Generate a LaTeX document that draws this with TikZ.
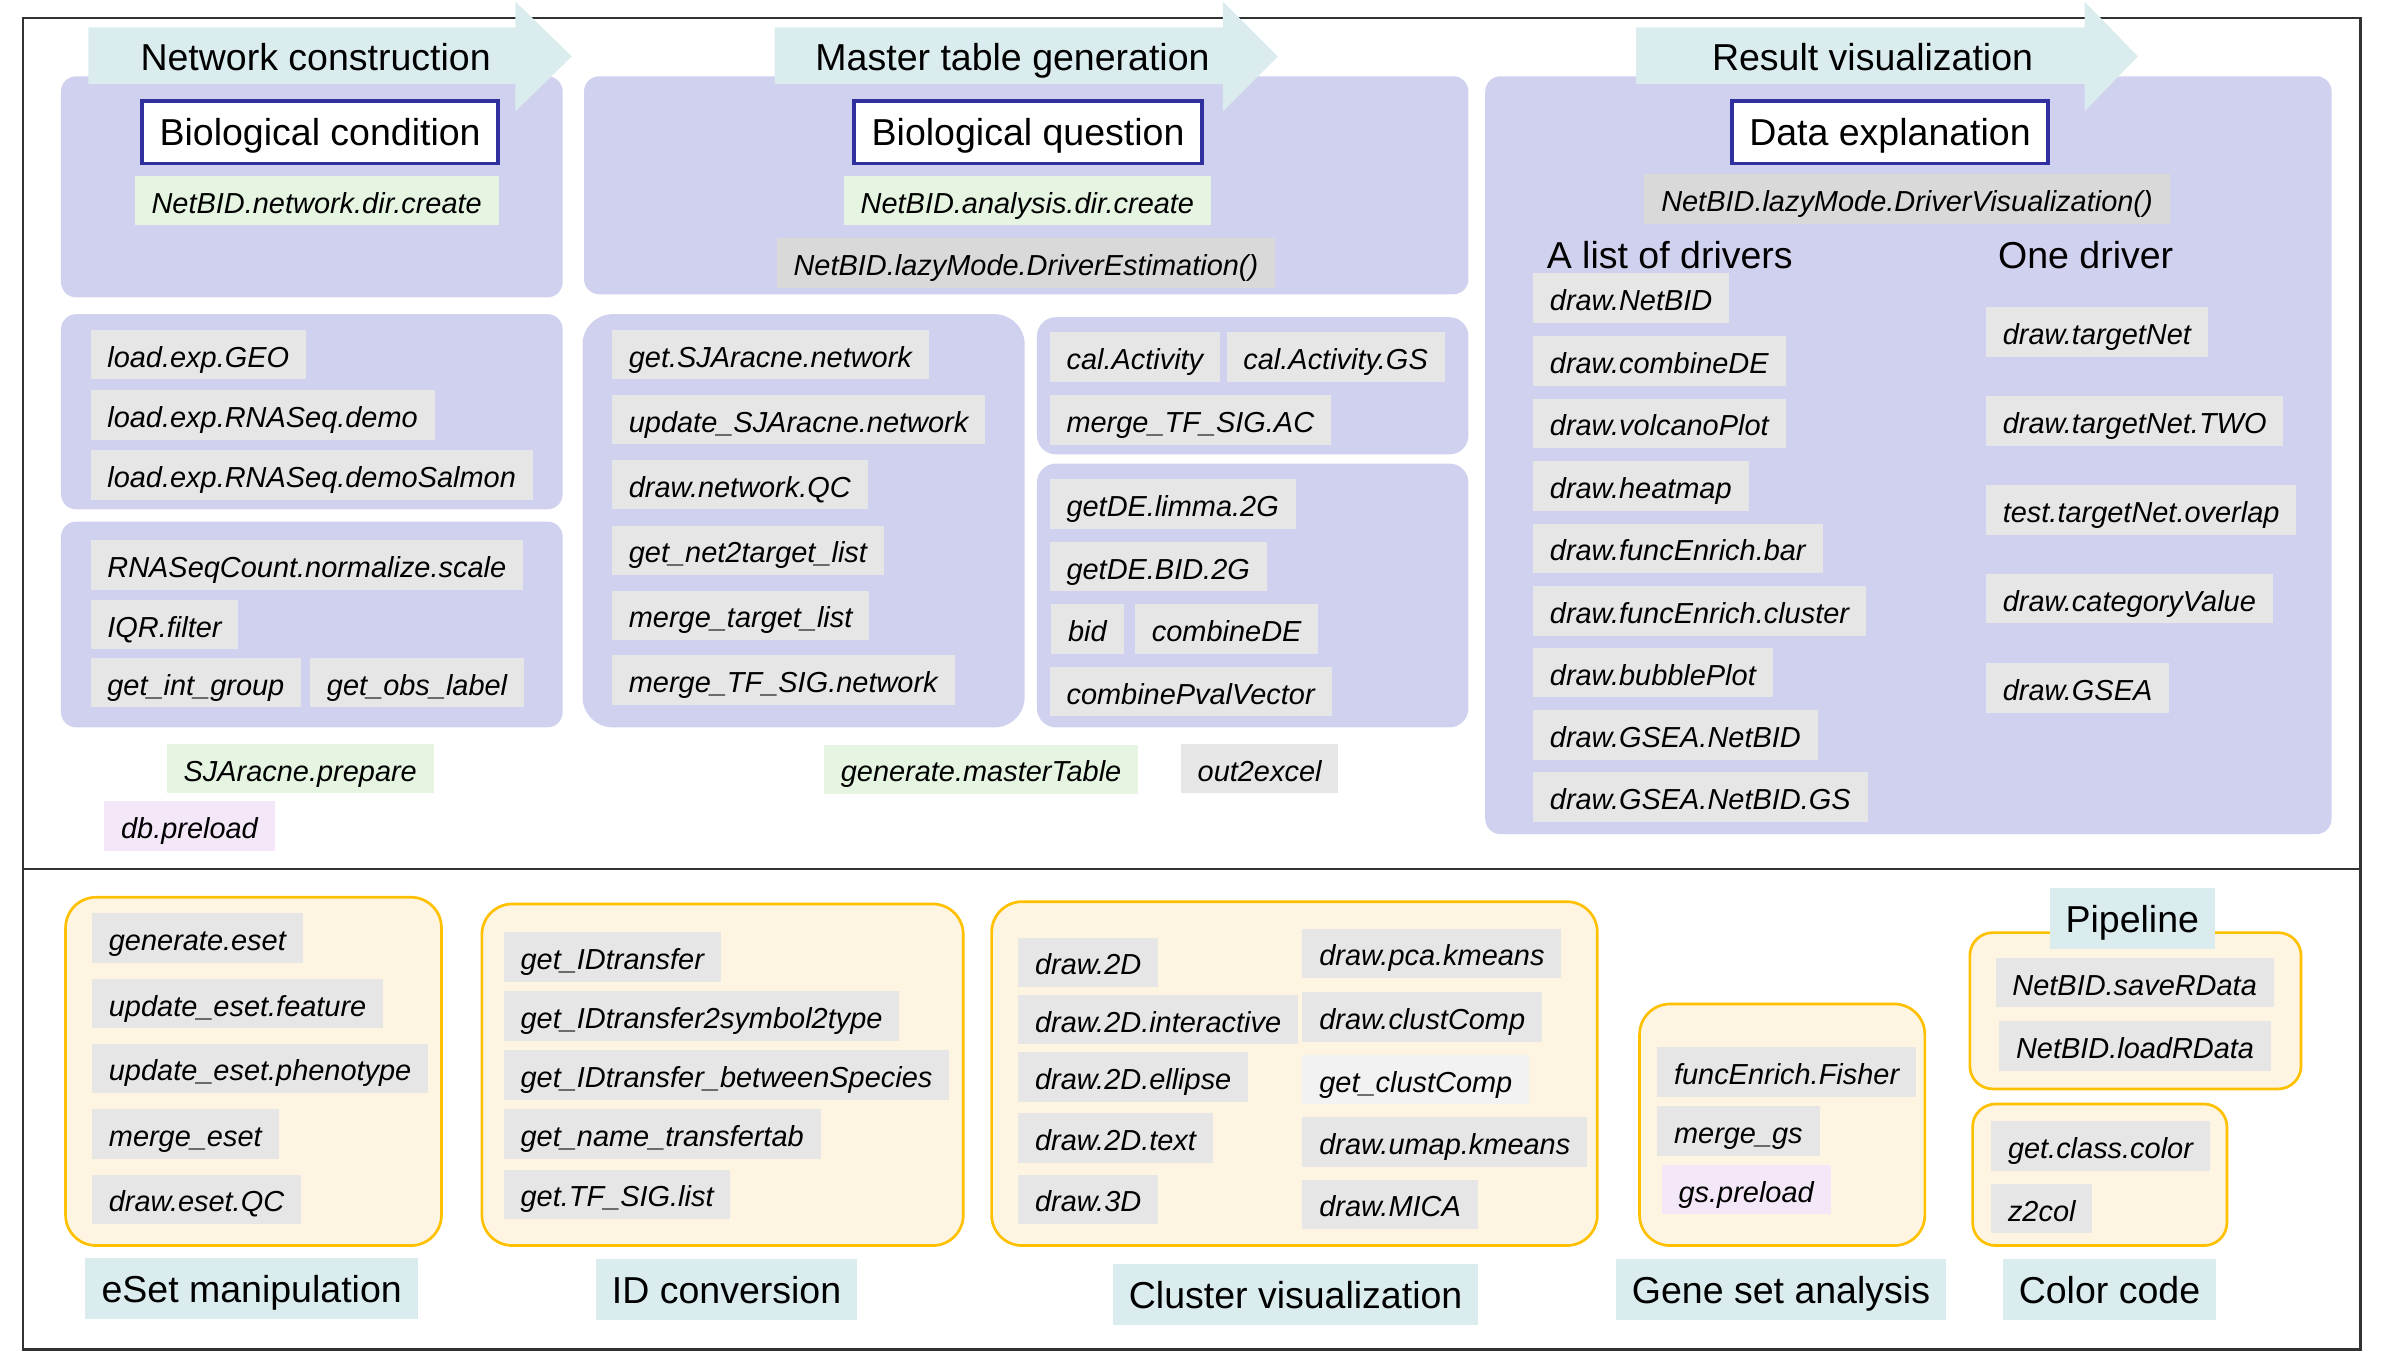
\documentclass[tikz,border=0pt]{standalone}
\usepackage{fontspec}
\setmainfont{Liberation Sans}
\usepackage{tikz}
\definecolor{nbPurple}{RGB}{208,209,238}
\definecolor{nbArrow}{RGB}{218,236,238}
\definecolor{nbGray}{RGB}{230,230,230}
\definecolor{nbDark}{RGB}{217,217,217}
\definecolor{nbLight}{RGB}{242,242,242}
\definecolor{nbGreen}{RGB}{229,245,226}
\definecolor{nbPink}{RGB}{243,231,248}
\definecolor{nbCream}{RGB}{254,244,226}
\definecolor{nbGold}{RGB}{255,192,0}
\definecolor{nbBlue}{RGB}{48,48,160}
\definecolor{nbFrame}{RGB}{50,50,50}

\begin{document}
\begin{tikzpicture}[x=0.02cm, y=-0.02cm,
  fn/.style={fill=nbGray, anchor=north west, font=\fontsize{10.8}{13}\selectfont\itshape,
    inner xsep=6.3pt, inner ysep=3.6pt, text height=10.3pt, text depth=1pt},
  fnGreen/.style={fn, fill=nbGreen},
  fnPink/.style={fn, fill=nbPink},
  fnDark/.style={fn, fill=nbDark},
  fnLight/.style={fn, fill=nbLight},
  tag/.style={fill=nbArrow, anchor=north west, font=\fontsize{14}{16}\selectfont,
    inner xsep=6pt, inner ysep=4pt, text height=12.6pt, text depth=2.2pt},
  question/.style={draw=nbBlue, line width=1.4pt, fill=white, anchor=north west,
    font=\fontsize{14}{16}\selectfont, inner xsep=6.5pt, inner ysep=4.5pt,
    text height=12pt, text depth=2.3pt},
  heading/.style={font=\fontsize{14}{16}\selectfont, inner sep=0pt},
  panel/.style={fill=nbPurple, rounded corners=0.2cm},
  toolbox/.style={fill=nbCream, draw=nbGold, line width=1pt, rounded corners=0.4cm},
  stage/.style={fill=nbArrow}]
  \useasboundingbox (0,0) rectangle (1568,893);

  % Frame
  \draw[nbFrame, line width=0.8pt] (15,12) rectangle (1548,885);
  \draw[nbFrame, line width=0.8pt] (15,570) -- (1548,570);

  % Panels of the workflow
  \fill[panel] (40,50) rectangle (369,195);
  \fill[panel] (383,50) rectangle (963,193);
  \fill[panel] (974,50) rectangle (1529,547);
  \fill[panel] (40,206) rectangle (369,334);
  \fill[panel] (40,342) rectangle (369,477);
  \fill[panel, rounded corners=0.4cm] (382,206) rectangle (672,477);
  \fill[panel, rounded corners=0.25cm] (680,208) rectangle (963,298);
  \fill[panel, rounded corners=0.25cm] (680,304) rectangle (963,477);

  % Stage arrows
  \fill[stage] (58,18) -- (338,18) -- (338,1) -- (375,37) -- (338,73) -- (338,55) -- (58,55) -- cycle;
  \fill[stage] (508,18) -- (802,18) -- (802,1) -- (838,37) -- (802,73) -- (802,55) -- (508,55) -- cycle;
  \fill[stage] (1073,18) -- (1367,18) -- (1367,1) -- (1402,37) -- (1367,73) -- (1367,55) -- (1073,55) -- cycle;
  \node[heading, anchor=base] (netTitle) at (207,46) {Network construction};
  \node[heading, anchor=base] (masterTitle) at (664,46) {Master table generation};
  \node[heading, anchor=base] (resultTitle) at (1228,46) {Result visualization};

  % Network construction
  \node[question] (bioCond) at (92,65) {Biological condition};
  \node[fnGreen] (netDir) at (88,115) {NetBID.network.dir.create};
  \node[fn] (loadGeo) at (59,216) {load.exp.GEO};
  \node[fn] (loadDemo) at (59,255.5) {load.exp.RNASeq.demo};
  \node[fn] (loadSalmon) at (59,295) {load.exp.RNASeq.demoSalmon};
  \node[fn] (normScale) at (59,354) {RNASeqCount.normalize.scale};
  \node[fn] (iqrFilter) at (59,393) {IQR.filter};
  \node[fn] (intGroup) at (59,431) {get\_int\_group};
  \node[fn] (obsLabel) at (203,431) {get\_obs\_label};
  \node[fnGreen] (sjaPrepare) at (109,487.5) {SJAracne.prepare};
  \node[fnPink] (dbPreload) at (68,525) {db.preload};

  % Master table generation
  \node[question] (bioQuest) at (559,65) {Biological question};
  \node[fnGreen] (anaDir) at (553,115) {NetBID.analysis.dir.create};
  \node[fnDark] (lazyEst) at (509,156) {NetBID.lazyMode.DriverEstimation()};
  \node[fn] (getNet) at (401,216) {get.SJAracne.network};
  \node[fn] (updNet) at (401,258.6) {update\_SJAracne.network};
  \node[fn] (netQC) at (401,301.2) {draw.network.QC};
  \node[fn] (net2target) at (401,344.3) {get\_net2target\_list};
  \node[fn] (mergeTarget) at (401,387) {merge\_target\_list};
  \node[fn] (mergeNet) at (401,429.5) {merge\_TF\_SIG.network};
  \node[fn] (calAct) at (688,217.5) {cal.Activity};
  \node[fn] (calActGS) at (804,217.5) {cal.Activity.GS};
  \node[fn] (mergeAC) at (688,259) {merge\_TF\_SIG.AC};
  \node[fn] (deLimma) at (688,314) {getDE.limma.2G};
  \node[fn] (deBid) at (688,355) {getDE.BID.2G};
  \node[fn] (bid) at (689,396) {bid};
  \node[fn] (combDE) at (744,396) {combineDE};
  \node[fn] (combPval) at (688,437) {combinePvalVector};
  \node[fnGreen] (masterTable) at (540,488) {generate.masterTable};
  \node[fn] (outExcel) at (774,487.5) {out2excel};

  % Result visualization
  \node[question] (dataExpl) at (1134.5,65) {Data explanation};
  \node[fnDark] (lazyVis) at (1078,114) {NetBID.lazyMode.DriverVisualization()};
  \node[heading, anchor=base west] (listHead) at (1014,176) {A list of drivers};
  \node[heading, anchor=base west] (oneHead) at (1310,176) {One driver};
  \node[fn] (drNetBID) at (1005,179) {draw.NetBID};
  \node[fn] (drCombDE) at (1005,220) {draw.combineDE};
  \node[fn] (drVolcano) at (1005,261) {draw.volcanoPlot};
  \node[fn] (drHeat) at (1005,302) {draw.heatmap};
  \node[fn] (drBar) at (1005,343) {draw.funcEnrich.bar};
  \node[fn] (drCluster) at (1005,384) {draw.funcEnrich.cluster};
  \node[fn] (drBubble) at (1005,424.5) {draw.bubblePlot};
  \node[fn] (drGseaNet) at (1005,465.5) {draw.GSEA.NetBID};
  \node[fn] (drGseaGS) at (1005,506) {draw.GSEA.NetBID.GS};
  \node[fn] (drTarget) at (1302,201) {draw.targetNet};
  \node[fn] (drTargetTwo) at (1302,259.5) {draw.targetNet.TWO};
  \node[fn] (testOverlap) at (1302,318) {test.targetNet.overlap};
  \node[fn] (drCategory) at (1302,376) {draw.categoryValue};
  \node[fn] (drGsea) at (1302,434.5) {draw.GSEA};

  % Tool boxes
  \draw[toolbox] (43,588.4) rectangle (289.5,816.8);
  \draw[toolbox] (316,592.8) rectangle (631.7,816.8);
  \draw[toolbox] (650.3,591.3) rectangle (1047.5,816.8);
  \draw[toolbox] (1075.2,658.4) rectangle (1262.3,816.8);
  \draw[toolbox, rounded corners=0.3cm] (1291.8,611.6) rectangle (1509,714.1);
  \draw[toolbox, rounded corners=0.3cm] (1293.6,724) rectangle (1460.4,816.8);

  % eSet manipulation
  \node[fn] (genEset) at (60,598.5) {generate.eset};
  \node[fn] (updFeature) at (60,641.5) {update\_eset.feature};
  \node[fn] (updPheno) at (60,684) {update\_eset.phenotype};
  \node[fn] (mergeEset) at (60,727) {merge\_eset};
  \node[fn] (esetQC) at (60,770) {draw.eset.QC};
  \node[tag] (esetTag) at (55.7,824.7) {eSet manipulation};

  % ID conversion
  \node[fn] (idTrans) at (330,611) {get\_IDtransfer};
  \node[fn] (idSymbol) at (330,649.6) {get\_IDtransfer2symbol2type};
  \node[fn] (idSpecies) at (330,688.5) {get\_IDtransfer\_betweenSpecies};
  \node[fn] (nameTab) at (330,727.2) {get\_name\_transfertab};
  \node[fn] (tfList) at (330,766.6) {get.TF\_SIG.list};
  \node[tag] (idTag) at (390.4,825) {ID conversion};

  % Cluster visualization
  \node[fn] (dr2D) at (667.4,614.6) {draw.2D};
  \node[fn] (dr2DInter) at (667.4,652) {draw.2D.interactive};
  \node[fn] (dr2DEll) at (667.4,689.6) {draw.2D.ellipse};
  \node[fn] (dr2DText) at (667.4,729.6) {draw.2D.text};
  \node[fn] (dr3D) at (667.4,770) {draw.3D};
  \node[fn] (pcaKmeans) at (853.8,608.7) {draw.pca.kmeans};
  \node[fn] (drClust) at (853.8,650.3) {draw.clustComp};
  \node[fnLight] (getClust) at (853.8,691.4) {get\_clustComp};
  \node[fn] (umapKmeans) at (853.8,732.2) {draw.umap.kmeans};
  \node[fn] (drMica) at (853.8,773.3) {draw.MICA};
  \node[tag] (clustTag) at (729.4,828.4) {Cluster visualization};

  % Gene set analysis
  \node[fn] (fisher) at (1086.4,686.3) {funcEnrich.Fisher};
  \node[fn] (mergeGs) at (1086.4,725) {merge\_gs};
  \node[fnPink] (gsPreload) at (1089.4,763.5) {gs.preload};
  \node[tag] (gsTag) at (1059.3,825) {Gene set analysis};

  % Pipeline
  \node[tag] (pipeTag) at (1343.7,581.9) {Pipeline};
  \node[fn] (saveData) at (1308.3,627.8) {NetBID.saveRData};
  \node[fn] (loadData) at (1310.7,669.3) {NetBID.loadRData};

  % Color code
  \node[fn] (classColor) at (1305.4,734.9) {get.class.color};
  \node[fn] (zCol) at (1305.4,776) {z2col};
  \node[tag] (colorTag) at (1313,825) {Color code};
\end{tikzpicture}
\end{document}
